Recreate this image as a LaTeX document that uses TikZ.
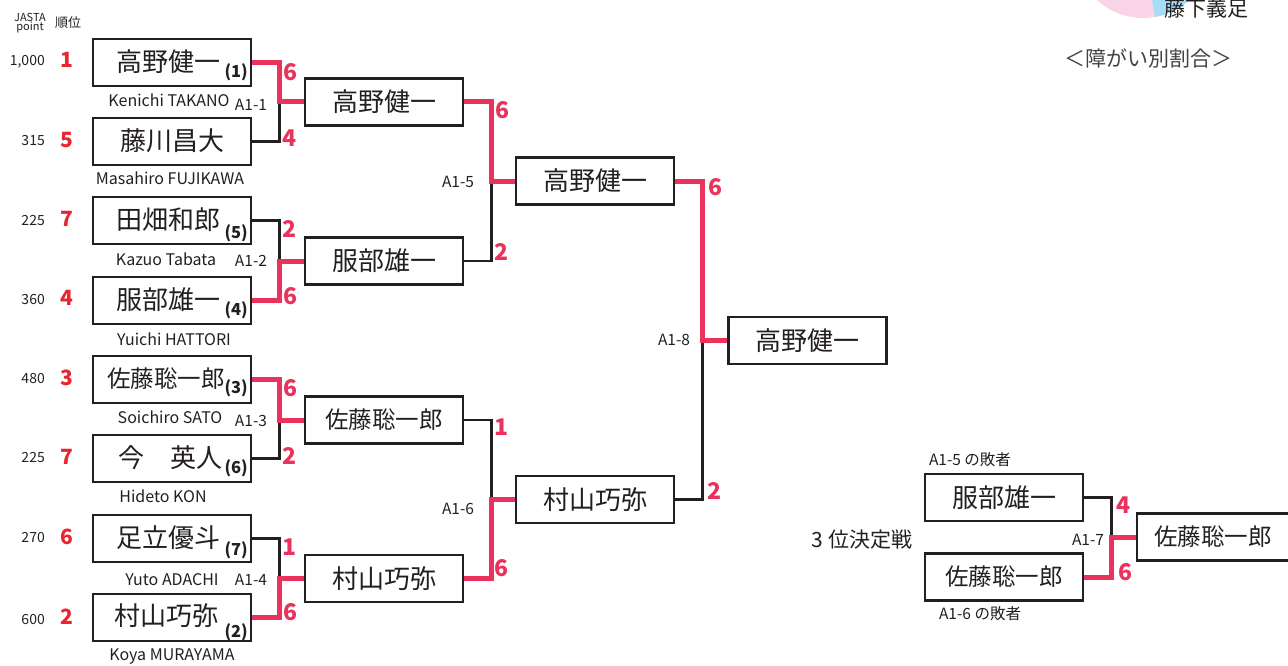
\documentclass[tikz,border=0pt]{standalone}
\usepackage{fontspec}
\setmainfont{Noto Sans CJK JP}
\definecolor{ink}{HTML}{231F20}
\definecolor{winred}{HTML}{E9335C}
\definecolor{rankred}{HTML}{E8262F}
\definecolor{pinkpie}{HTML}{F8D4E6}
\definecolor{bluepie}{HTML}{A6DCF5}
\begin{document}
\begin{tikzpicture}[x=1pt,y=-1pt,
 box/.style={draw=ink, line width=2.6pt, minimum width=158pt, minimum height=47pt, inner sep=0pt, text=ink, font=\fontsize{26}{30}\selectfont},
 nm/.style={text=ink, inner sep=0pt, font=\fontsize{26}{30}\selectfont},
 nmf/.style={text=ink, inner sep=0pt, font=\fontsize{23.5}{30}\selectfont},
 ename/.style={text=ink, font=\fontsize{16}{18}\selectfont, inner sep=0pt},
 seed/.style={text=ink, font=\bfseries\fontsize{16.5}{18}\selectfont, inner sep=0pt, anchor=east},
 pts/.style={text=ink, font=\fontsize{14}{16}\selectfont, inner sep=0pt, anchor=east},
 rk/.style={text=rankred, font=\bfseries\fontsize{21}{24}\selectfont, inner sep=0pt},
 sc/.style={text=winred, font=\bfseries\fontsize{23}{26}\selectfont, inner sep=0pt},
 mt/.style={text=ink, font=\fontsize{15.5}{16}\selectfont, inner sep=0pt},
 lose/.style={draw=ink, line width=2.6pt},
 winl/.style={draw=winred, line width=5pt, line join=miter},
 note/.style={text=ink, inner sep=0pt}]
\useasboundingbox (0,0) rectangle (1288,666);

% pie fragment
\fill[pinkpie] (1143,-50) circle (68);
\begin{scope}
\clip (1143,-50) circle (68);
\fill[bluepie] (1143,-50) -- (1156,22) -- (1300,22) -- (1300,-200) -- cycle;
\end{scope}
\node[note, font=\fontsize{21}{24}\selectfont] (pielabel) at (1206,9) {藤下義足};
\node[note, font=\fontsize{21}{24}\selectfont, text=ink!85] (legend) at (1148,58) {＜障がい別割合＞};

% header
\node[note, font=\fontsize{11}{11}\selectfont] (hpt1) at (30,17) {JASTA};
\node[note, font=\fontsize{11}{11}\selectfont] (hpt2) at (30,27.5) {point};
\node[note, font=\fontsize{13}{14}\selectfont] (hrk) at (68,23) {順位};

% round 1 boxes
\foreach \n/\yy in {1/62.5,2/141.5,3/220.5,4/300.5,5/379.5,6/458.5,7/538.5,8/617.5}
  {\node[box] (p\n) at (172,\yy) {};}
\node[nm] (n1) at (168,62) {高野健一};
\node[nm] (n2) at (172,141) {藤川昌大};
\node[nm] (n3) at (168,220) {田畑和郎};
\node[nm] (n4) at (168,300) {服部雄一};
\node[nmf] (n5) at (166,379) {佐藤聡一郎};
\node[nm] (n6) at (170,458) {今　英人};
\node[nm] (n7) at (168,538) {足立優斗};
\node[nm] (n8) at (166,616) {村山巧弥};
% seeds
\node[seed] (s1) at (248,72) {(1)};
\node[seed] (s3) at (248,233) {(5)};
\node[seed] (s4) at (248,310) {(4)};
\node[seed] (s5) at (248,388) {(3)};
\node[seed] (s6) at (248,468) {(6)};
\node[seed] (s7) at (248,550) {(7)};
\node[seed] (s8) at (248,632) {(2)};

% english names
\node[ename] (e1) at (169,100) {Kenichi TAKANO};
\node[ename] (e2) at (170,178) {Masahiro FUJIKAWA};
\node[ename] (e3) at (166,259) {Kazuo Tabata};
\node[ename] (e4) at (174,339) {Yuichi HATTORI};
\node[ename] (e5) at (170,417) {Soichiro SATO};
\node[ename] (e6) at (163,496) {Hideto KON};
\node[ename] (e7) at (172,580) {Yuto ADACHI};
\node[ename] (e8) at (172,657) {Koya MURAYAMA};

% points and ranks
\node[pts] (pt1) at (45,62) {1,000};
\node[pts] (pt2) at (45,141) {315};
\node[pts] (pt3) at (45,221) {225};
\node[pts] (pt4) at (45,300) {360};
\node[pts] (pt5) at (45,379) {480};
\node[pts] (pt6) at (45,458) {225};
\node[pts] (pt7) at (45,538) {270};
\node[pts] (pt8) at (45,620) {600};
\node[rk] (r1) at (67,60) {1};
\node[rk] (r2) at (67,140) {5};
\node[rk] (r3) at (67,219) {7};
\node[rk] (r4) at (67,298) {4};
\node[rk] (r5) at (67,378) {3};
\node[rk] (r6) at (67,457) {7};
\node[rk] (r7) at (67,537) {6};
\node[rk] (r8) at (67,617) {2};

% later rounds
\node[box] (m1) at (384,102) {高野健一};
\node[box] (m2) at (384,261) {服部雄一};
\node[box, font=\fontsize{23.5}{30}\selectfont] (m3) at (384,420) {佐藤聡一郎};
\node[box] (m4) at (384,578.5) {村山巧弥};
\node[box] (q1) at (595,181) {高野健一};
\node[box] (q2) at (595,499.5) {村山巧弥};
\node[box] (f1) at (807.5,340.5) {高野健一};

% third place
\node[box] (t1) at (1004,497.5) {服部雄一};
\node[box, font=\fontsize{23.5}{30}\selectfont] (t2) at (1004,577) {佐藤聡一郎};
\node[box, font=\fontsize{23.5}{30}\selectfont] (t3) at (1216,537) {\hspace*{-6pt}佐藤聡一郎};
\node[note, font=\fontsize{21}{24}\selectfont] (third) at (862,540) {3 位決定戦};
\node[note, font=\fontsize{15.5}{16}\selectfont] (t1n) at (970,460) {A1-5 の敗者};
\node[note, font=\fontsize{15.5}{16}\selectfont] (t2n) at (980,614) {A1-6 の敗者};

% match labels
\node[mt] (a1) at (251,105) {A1-1};
\node[mt] (a2) at (251,261) {A1-2};
\node[mt] (a3) at (251,421) {A1-3};
\node[mt] (a4) at (251,580) {A1-4};
\node[mt] (a5) at (458,182) {A1-5};
\node[mt] (a6) at (458,509) {A1-6};
\node[mt] (a8) at (674,340) {A1-8};
\node[mt] (a7) at (1088,540) {A1-7};

% losers' connectors
\draw[lose] (p2.east) -- ++(27,0) |- (m1.west);
\draw[lose] (p3.east) -- ++(27,0) |- (m2.west);
\draw[lose] (p6.east) -- ++(27,0) |- (m3.west);
\draw[lose] (p7.east) -- ++(27,0) |- (m4.west);
\draw[lose] (m2.east) -- ++(27,0) |- (q1.west);
\draw[lose] (m3.east) -- ++(27,0) |- (q2.west);
\draw[lose] (q2.east) -- ++(27,0) |- (f1.west);
\draw[lose] (t1.east) -- ++(27,0) |- (t3.west);
% winners' connectors
\draw[winl] (p1.east) -- ++(27,0) |- (m1.west);
\draw[winl] (p4.east) -- ++(27,0) |- (m2.west);
\draw[winl] (p5.east) -- ++(27,0) |- (m3.west);
\draw[winl] (p8.east) -- ++(27,0) |- (m4.west);
\draw[winl] (m1.east) -- ++(27,0) |- (q1.west);
\draw[winl] (m4.east) -- ++(27,0) |- (q2.west);
\draw[winl] (q1.east) -- ++(27,0) |- (f1.west);
\draw[winl] (t2.east) -- ++(27,0) |- (t3.west);

% scores
\node[sc] (c1) at (291,72) {6};
\node[sc] (c2) at (289,138) {4};
\node[sc] (c3) at (290,229) {2};
\node[sc] (c4) at (291,296) {6};
\node[sc] (c5) at (291,388) {6};
\node[sc] (c6) at (290,456) {2};
\node[sc] (c7) at (289,547) {1};
\node[sc] (c8) at (291,612) {6};
\node[sc] (c9) at (502,110) {6};
\node[sc] (c10) at (501,252) {2};
\node[sc] (c11) at (501,427) {1};
\node[sc] (c12) at (501,568) {6};
\node[sc] (c13) at (715,187) {6};
\node[sc] (c14) at (714,491) {2};
\node[sc] (c15) at (1123,505) {4};
\node[sc] (c16) at (1125,572) {6};
\end{tikzpicture}
\end{document}
